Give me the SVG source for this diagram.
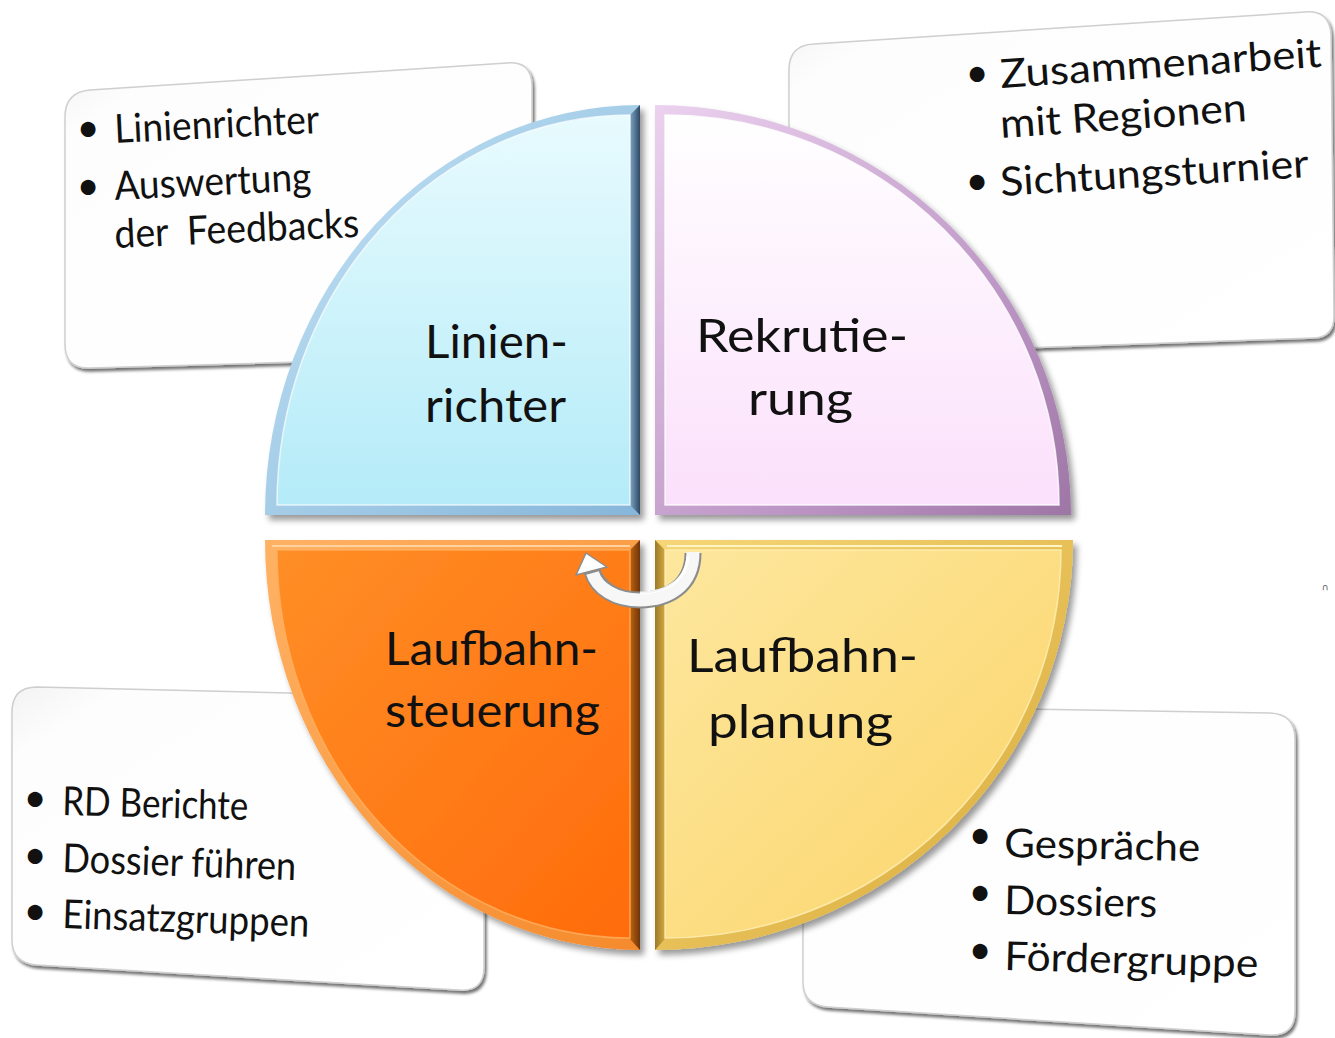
<svg xmlns="http://www.w3.org/2000/svg" width="1335" height="1038" viewBox="0 0 1335 1038">
<defs>
<style>
.t{font-family:Lato,"Open Sans","Liberation Sans",sans-serif;fill:#111}
.lbl{font-size:47px}
.itm{font-size:40px}
.bul{font-size:40px;text-anchor:middle}
.box{fill:url(#boxFill);stroke:#cfcfcf;stroke-width:1.5}
.pre{white-space:pre}
</style>
<linearGradient id="boxFill" x1="0" y1="0" x2="1" y2="1">
<stop offset="0" stop-color="#f3f3f3"/><stop offset="0.12" stop-color="#fdfdfd"/><stop offset="1" stop-color="#ffffff"/>
</linearGradient>
<linearGradient id="blueFill" x1="0" y1="0" x2="0" y2="1">
<stop offset="0" stop-color="#e8fbfe"/><stop offset="1" stop-color="#b4ebf8"/>
</linearGradient>
<linearGradient id="blueFrame" x1="0" y1="0" x2="1" y2="1">
<stop offset="0" stop-color="#c4e4f6"/><stop offset="1" stop-color="#86b6da"/>
</linearGradient>
<linearGradient id="blueDark" x1="0" y1="0" x2="1" y2="0">
<stop offset="0" stop-color="#7ea6c6"/><stop offset="1" stop-color="#2e4862"/>
</linearGradient>
<linearGradient id="pinkFill" x1="0" y1="0" x2="0" y2="1">
<stop offset="0" stop-color="#ffffff"/><stop offset="1" stop-color="#fbe0fb"/>
</linearGradient>
<linearGradient id="pinkFrame" x1="0" y1="0" x2="1" y2="1">
<stop offset="0" stop-color="#ecd2ef"/><stop offset="0.6" stop-color="#c09ac8"/><stop offset="1" stop-color="#9e76a6"/>
</linearGradient>
<linearGradient id="orangeFill" x1="0" y1="0" x2="1" y2="1">
<stop offset="0" stop-color="#ff8e26"/><stop offset="1" stop-color="#ff6c0c"/>
</linearGradient>
<linearGradient id="orangeFrame" x1="0" y1="0" x2="1" y2="1">
<stop offset="0" stop-color="#ffb264"/><stop offset="1" stop-color="#f58a2c"/>
</linearGradient>
<linearGradient id="orangeDark" x1="0" y1="0" x2="1" y2="0">
<stop offset="0" stop-color="#c0640e"/><stop offset="1" stop-color="#6e3406"/>
</linearGradient>
<linearGradient id="yellowFill" x1="0" y1="0" x2="1" y2="1">
<stop offset="0" stop-color="#fde79e"/><stop offset="1" stop-color="#fbd468"/>
</linearGradient>
<linearGradient id="yellowFrame" x1="0" y1="0" x2="1" y2="1">
<stop offset="0" stop-color="#f6d676"/><stop offset="1" stop-color="#d8aa3a"/>
</linearGradient>
<linearGradient id="yellowDark" x1="0" y1="0" x2="1" y2="0">
<stop offset="0" stop-color="#9c7a2a"/><stop offset="1" stop-color="#d2a840"/>
</linearGradient>
<filter id="qs" x="-10%" y="-10%" width="125%" height="125%">
<feGaussianBlur in="SourceAlpha" stdDeviation="3"/>
<feOffset dx="4" dy="5"/>
<feComponentTransfer><feFuncA type="linear" slope="0.4"/></feComponentTransfer>
<feMerge><feMergeNode/><feMergeNode in="SourceGraphic"/></feMerge>
</filter>
<filter id="bs" x="-5%" y="-5%" width="115%" height="115%">
<feGaussianBlur in="SourceAlpha" stdDeviation="1.8"/>
<feOffset dx="2" dy="3"/>
<feComponentTransfer><feFuncA type="linear" slope="0.55"/></feComponentTransfer>
<feMerge><feMergeNode/><feMergeNode in="SourceGraphic"/></feMerge>
</filter>
</defs>
<rect width="1335" height="1038" fill="#ffffff"/>

<!-- text boxes -->
<g id="box-linienrichter">
<path class="box" filter="url(#bs)" d="M 65,117 Q 65,92 90,90 L 507,63 Q 532,61 532,86 L 532,340 Q 532,355 517,356 L 90,368 Q 65,369 65,344 Z"/>
<text class="t bul" x="88" y="142">•</text>
<text class="t itm" x="115" y="143" textLength="205" lengthAdjust="spacingAndGlyphs" transform="rotate(-2.8 115 143)">Linienrichter</text>
<text class="t bul" x="88" y="200">•</text>
<text class="t itm" x="115" y="200" textLength="197" lengthAdjust="spacingAndGlyphs" transform="rotate(-2.8 115 200)">Auswertung</text>
<text class="t itm pre" x="115" y="248" textLength="245" lengthAdjust="spacingAndGlyphs" transform="rotate(-2.6 115 248)">der  Feedbacks</text>
</g>

<g id="box-rekrutierung">
<path class="box" filter="url(#bs)" d="M 789,70 Q 789,45 814,44 L 1305,12 Q 1330,10 1331,35 L 1334,316 Q 1334,337 1314,338 L 789,356 Z"/>
<text class="t bul" x="977" y="87">•</text>
<text class="t itm" x="1001" y="88" textLength="322" lengthAdjust="spacingAndGlyphs" transform="rotate(-3.8 1001 88)">Zusammenarbeit</text>
<text class="t itm" x="1001" y="138" textLength="247" lengthAdjust="spacingAndGlyphs" transform="rotate(-3.9 1001 138)">mit Regionen</text>
<text class="t bul" x="977" y="195">•</text>
<text class="t itm" x="1001" y="196" textLength="309" lengthAdjust="spacingAndGlyphs" transform="rotate(-3.5 1001 196)">Sichtungsturnier</text>
</g>

<g id="box-laufbahnsteuerung">
<path class="box" filter="url(#bs)" d="M 12,712 Q 12,687 37,687 L 459,697 Q 484,698 484,722 L 484,967 Q 484,992 459,990 L 37,965 Q 12,963 12,940 Z"/>
<text class="t bul" x="35" y="812">•</text>
<text class="t itm" x="62" y="815" textLength="186" lengthAdjust="spacingAndGlyphs" transform="rotate(1.5 62 815)">RD Berichte</text>
<text class="t bul" x="35" y="869">•</text>
<text class="t itm" x="62" y="872" textLength="234" lengthAdjust="spacingAndGlyphs" transform="rotate(2 62 872)">Dossier führen</text>
<text class="t bul" x="35" y="925">•</text>
<text class="t itm" x="62" y="928" textLength="247" lengthAdjust="spacingAndGlyphs" transform="rotate(2 62 928)">Einsatzgruppen</text>
</g>

<g id="box-laufbahnplanung">
<path class="box" filter="url(#bs)" d="M 803,730 Q 803,705 828,706 L 1270,713 Q 1295,714 1295,739 L 1295,1011 Q 1295,1036 1270,1035 L 828,1007 Q 803,1005 803,982 Z"/>
<text class="t bul" x="980" y="849">•</text>
<text class="t itm" x="1004" y="857" textLength="196" lengthAdjust="spacingAndGlyphs" transform="rotate(1.2 1004 857)">Gespräche</text>
<text class="t bul" x="980" y="906">•</text>
<text class="t itm" x="1004" y="914" textLength="153" lengthAdjust="spacingAndGlyphs" transform="rotate(1.2 1004 914)">Dossiers</text>
<text class="t bul" x="980" y="964">•</text>
<text class="t itm" x="1004" y="970" textLength="254" lengthAdjust="spacingAndGlyphs" transform="rotate(1.6 1004 970)">Fördergruppe</text>
</g>

<!-- quadrants -->
<g id="q-linienrichter">
<g filter="url(#qs)">
<path d="M 640,515 L 265,515 A 375 410 0 0 1 640,105 Z" fill="url(#blueFrame)"/>
<polygon points="640,105 630,115 630,505 640,515" fill="url(#blueDark)"/>
<path d="M 630,505 L 277,505 A 353 390 0 0 1 630,115 Z" fill="url(#blueFill)" stroke="#ffffff" stroke-opacity="0.7" stroke-width="1.5"/>
</g>
<text class="t lbl" x="425" y="358" textLength="143" lengthAdjust="spacingAndGlyphs">Linien-</text>
<text class="t lbl" x="425" y="422" textLength="141" lengthAdjust="spacingAndGlyphs">richter</text>
</g>

<g id="q-rekrutierung">
<g filter="url(#qs)">
<path d="M 655,515 L 655,105 A 416 410 0 0 1 1071,515 Z" fill="url(#pinkFrame)"/>
<path d="M 665,505 L 665,115 A 394 390 0 0 1 1059,505 Z" fill="url(#pinkFill)" stroke="#ffffff" stroke-opacity="0.8" stroke-width="1.5"/>
</g>
<text class="t lbl" x="696" y="352" textLength="212" lengthAdjust="spacingAndGlyphs">Rekrutie-</text>
<text class="t lbl" x="748" y="415" textLength="105" lengthAdjust="spacingAndGlyphs">rung</text>
</g>

<g id="q-laufbahnsteuerung">
<g filter="url(#qs)">
<path d="M 640,540 L 640,950 A 375 410 0 0 1 265,540 Z" fill="url(#orangeFrame)"/>
<polygon points="640,540 630,550 630,939 640,950" fill="url(#orangeDark)"/>
<path d="M 630,550 L 630,938 A 353 388 0 0 1 277,550 Z" fill="url(#orangeFill)" stroke="#ffb060" stroke-opacity="0.8" stroke-width="1.5"/>
<line x1="272" y1="546" x2="630" y2="546" stroke="#ffd2a0" stroke-width="2"/>
</g>
<text class="t lbl" x="385" y="665" textLength="213" lengthAdjust="spacingAndGlyphs">Laufbahn-</text>
<text class="t lbl" x="385" y="727" textLength="215" lengthAdjust="spacingAndGlyphs">steuerung</text>
</g>

<g id="q-laufbahnplanung">
<g filter="url(#qs)">
<path d="M 655,540 L 1073,540 A 418 410 0 0 1 655,950 Z" fill="url(#yellowFrame)"/>
<polygon points="655,540 665,550 665,939 655,950" fill="url(#yellowDark)"/>
<path d="M 665,550 L 1061,550 A 396 388 0 0 1 665,938 Z" fill="url(#yellowFill)" stroke="#fff0b8" stroke-opacity="0.8" stroke-width="1.5"/>
<line x1="667" y1="546" x2="1062" y2="546" stroke="#fff4c4" stroke-width="2"/>
</g>
<text class="t lbl" x="687" y="672" font-size="51" textLength="231" lengthAdjust="spacingAndGlyphs">Laufbahn-</text>
<text class="t lbl" x="708" y="738" font-size="51" textLength="185" lengthAdjust="spacingAndGlyphs">planung</text>
</g>

<!-- connector: circular arrow -->
<g id="connectors">
<path d="M 693 553 C 693 586 668 600 640 600 C 615 600 597 588 592 571" fill="none" stroke="#8c8c8c" stroke-width="17"/>
<polygon points="576,575 586,553 607,567" fill="#ffffff" stroke="#8c8c8c" stroke-width="1.5" stroke-linejoin="round"/>
<path d="M 693 552 C 693 586 668 600 640 600 C 615 600 597 588 592.5 573" fill="none" stroke="#f7f7f7" stroke-width="13"/>
<path d="M 688 556 C 686 582 664 593 640 593" fill="none" stroke="#ffffff" stroke-width="3" opacity="0.9"/>
</g>

<text x="1325" y="590" font-family="DejaVu Sans, sans-serif" font-size="9" fill="#555" text-anchor="middle">∩</text>
</svg>
